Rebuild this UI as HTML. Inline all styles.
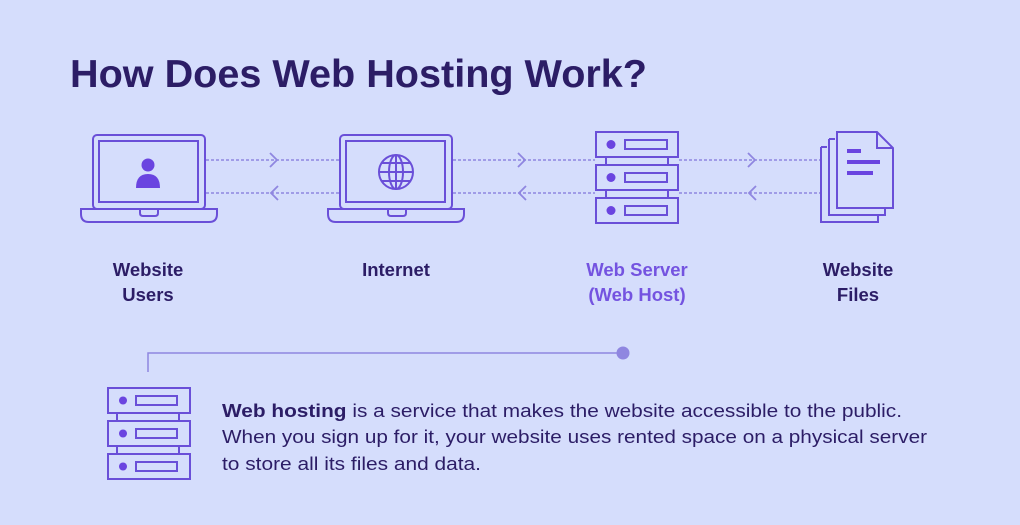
<!DOCTYPE html>
<html><head><meta charset="utf-8"><style>
html,body{margin:0;padding:0;background:#d5ddfc;}
svg{display:block}
</style></head><body>
<svg width="1020" height="525" viewBox="0 0 1020 525" xmlns="http://www.w3.org/2000/svg" font-family="Liberation Sans, sans-serif">
<rect width="1020" height="525" fill="#d5ddfc"/>
<text x="70" y="87" font-size="39" font-weight="bold" fill="#2c1d66" textLength="577" lengthAdjust="spacingAndGlyphs">How Does Web Hosting Work?</text>

<!-- dotted connectors -->
<g stroke="#8f86e0" stroke-width="1.5" stroke-dasharray="3,2" fill="none">
<line x1="206" y1="160" x2="340" y2="160"/><line x1="206" y1="193" x2="340" y2="193"/>
<line x1="453" y1="160" x2="595" y2="160"/><line x1="453" y1="193" x2="595" y2="193"/>
<line x1="679" y1="160" x2="821" y2="160"/><line x1="679" y1="193" x2="821" y2="193"/>
</g>
<g stroke="#8f86e0" stroke-width="1.8" fill="none">
<polyline points="270,153 277,160 270,167"/><polyline points="278,186 271,193 278,200"/>
<polyline points="518,153 525,160 518,167"/><polyline points="526,186 519,193 526,200"/>
<polyline points="748,153 755,160 748,167"/><polyline points="756,186 749,193 756,200"/>
</g>

<g stroke="#6a4fd8" stroke-width="2" fill="none">
<!-- laptop 1 -->
<rect x="93" y="135" width="112" height="74" rx="4"/>
<rect x="99" y="141" width="99" height="61"/>
<path d="M81,209 H217 V214 Q217,222 209,222 H89 Q81,222 81,214 Z"/>
<path d="M140,209 v4 q0,3 3,3 h12 q3,0 3,-3 v-4"/>
<!-- laptop 2 -->
<rect x="340" y="135" width="112" height="74" rx="4"/>
<rect x="346" y="141" width="99" height="61"/>
<path d="M328,209 H464 V214 Q464,222 456,222 H336 Q328,222 328,214 Z"/>
<path d="M388,209 v4 q0,3 3,3 h12 q3,0 3,-3 v-4"/>
<!-- globe -->
<circle cx="396" cy="172" r="17"/>
<ellipse cx="396" cy="172" rx="7" ry="17"/>
<line x1="396" y1="155" x2="396" y2="189"/>
<line x1="379" y1="172" x2="413" y2="172"/>
<line x1="382" y1="163" x2="410" y2="163"/>
<line x1="382" y1="181" x2="410" y2="181"/>
<!-- server big -->
<rect x="596" y="132" width="82" height="25"/>
<rect x="596" y="165" width="82" height="25"/>
<rect x="596" y="198" width="82" height="25"/>
<line x1="606" y1="157" x2="606" y2="165"/><line x1="668" y1="157" x2="668" y2="165"/>
<line x1="606" y1="190" x2="606" y2="198"/><line x1="668" y1="190" x2="668" y2="198"/>
<rect x="625" y="140" width="42" height="9"/>
<rect x="625" y="173" width="42" height="9"/>
<rect x="625" y="206" width="42" height="9"/>
<!-- files -->
<path d="M821,147 H827 M821,147 V222 H878 V216"/>
<path d="M829,139 H835 M829,139 V215 H885 V208"/>
<path d="M837,132 H877 L893,148 V208 H837 Z"/>
<path d="M877,132 V148 H893"/>
<!-- small server -->
<rect x="108" y="388" width="82" height="25"/>
<rect x="108" y="421" width="82" height="25"/>
<rect x="108" y="454" width="82" height="25"/>
<line x1="117" y1="413" x2="117" y2="421"/><line x1="179" y1="413" x2="179" y2="421"/>
<line x1="117" y1="446" x2="117" y2="454"/><line x1="179" y1="446" x2="179" y2="454"/>
<rect x="136" y="396" width="41" height="9"/>
<rect x="136" y="429" width="41" height="9"/>
<rect x="136" y="462" width="41" height="9"/>
</g>
<g fill="#6a44e0">
<circle cx="148" cy="165" r="6.5"/>
<path d="M136,188 Q136,174 148,174 Q160,174 160,188 Z"/>
<circle cx="611" cy="144.5" r="4.5"/><circle cx="611" cy="177.5" r="4.5"/><circle cx="611" cy="210.5" r="4.5"/>
<circle cx="123" cy="400.5" r="4"/><circle cx="123" cy="433.5" r="4"/><circle cx="123" cy="466.5" r="4"/>
<rect x="847" y="149" width="14" height="4"/>
<rect x="847" y="160" width="33" height="4"/>
<rect x="847" y="171" width="26" height="4"/>
</g>

<!-- bottom connector -->
<path d="M148,372 V353 H623" stroke="#8f86e0" stroke-width="1.5" fill="none"/>
<circle cx="623" cy="353" r="6.5" fill="#8f86e0"/>

<g font-size="18.5" font-weight="bold" text-anchor="middle" fill="#2c1d66">
<text x="148" y="276">Website</text><text x="148" y="301">Users</text>
<text x="396" y="276">Internet</text>
<text x="637" y="276" fill="#7453e0">Web Server</text><text x="637" y="301" fill="#7453e0">(Web Host)</text>
<text x="858" y="276">Website</text><text x="858" y="301">Files</text>
</g>

<g font-size="18.5" fill="#2c1d66">
<text x="222" y="417" textLength="680" lengthAdjust="spacingAndGlyphs"><tspan font-weight="bold">Web hosting</tspan> is a service that makes the website accessible to the public.</text>
<text x="222" y="443" textLength="705" lengthAdjust="spacingAndGlyphs">When you sign up for it, your website uses rented space on a physical server</text>
<text x="222" y="470" textLength="259" lengthAdjust="spacingAndGlyphs">to store all its files and data.</text>
</g>
</svg>
</body></html>
